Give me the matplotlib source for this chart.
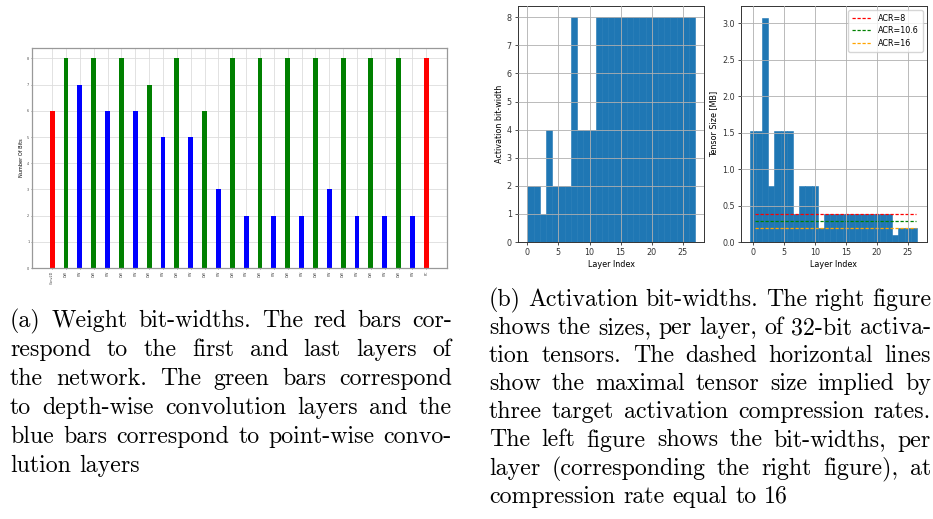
import numpy as np
import matplotlib
matplotlib.use("Agg")
import matplotlib.pyplot as plt

# (a) weight bit-widths per layer
layer_names = ["Conv2D", "DW", "PW", "DW", "PW", "DW", "PW", "DW", "PW", "DW", "PW",
               "DW", "PW", "DW", "PW", "DW", "PW", "DW", "PW", "DW", "PW", "DW", "PW",
               "DW", "PW", "DW", "PW", "FC"]
weight_bits = [6, 8, 7, 8, 6, 8, 6, 7, 5, 8, 5, 6, 3, 8, 2, 8, 2, 8, 2, 8, 3, 8, 2, 8, 2, 8, 2, 8]

# (b) activation bit-widths and 32-bit tensor sizes per layer
act_bits = [2, 2, 1, 4, 2, 2, 2, 8, 4, 4, 4, 8, 8, 8, 8, 8, 8, 8, 8, 8, 8, 8, 8, 8, 8, 8, 8]
tensor_mb = [1.53, 1.53, 3.07, 0.77, 1.53, 1.53, 1.53, 0.38, 0.77, 0.77, 0.77, 0.19,
             0.38, 0.38, 0.38, 0.38, 0.38, 0.38, 0.38, 0.38, 0.38, 0.38, 0.38,
             0.096, 0.19, 0.19, 0.19]
acr_labels = ["ACR=8", "ACR=10.6", "ACR=16"]
acr_limits = [0.384, 0.29, 0.192]

caption_a = [
    "(a) Weight bit-widths. The red bars cor-",
    "respond to the first and last layers of",
    "the network. The green bars correspond",
    "to depth-wise convolution layers and the",
    "blue bars correspond to point-wise convo-",
    "lution layers",
]
caption_b = [
    "(b) Activation bit-widths. The right figure",
    "shows the sizes, per layer, of 32-bit activa-",
    "tion tensors. The dashed horizontal lines",
    "show the maximal tensor size implied by",
    "three target activation compression rates.",
    "The left figure shows the bit-widths, per",
    "layer (corresponding the right figure), at",
    "compression rate equal to 16",
]

W, H = 933, 519
fig = plt.figure(figsize=(W / 100, H / 100), dpi=100)


def px_axes(l, t, r, b):
    return fig.add_axes([l / W, 1 - b / H, (r - l) / W, (b - t) / H])


# ---- weight bit-widths
kind_color = {"Conv2D": "red", "FC": "red", "DW": "green", "PW": "blue"}
ax1 = px_axes(32, 48, 447, 268)
x = np.arange(len(weight_bits))
ax1.bar(x, weight_bits, width=0.35, color=[kind_color[n] for n in layer_names], zorder=2)
ax1.set_xticks(x)
ax1.set_xticklabels(layer_names, rotation=90, fontsize=2.4)
ax1.set_yticks(range(9))
ax1.tick_params(axis="y", labelsize=2.4)
ax1.tick_params(length=1, width=0.4, pad=1, colors="#444444")
ax1.set_ylabel("Number Of Bits", fontsize=3.6, labelpad=2)
ax1.set_xlim(-1.45, 28.5)
ax1.set_ylim(0, 8.4)
ax1.grid(True, color="#dddddd", linewidth=0.6, zorder=0)
ax1.set_axisbelow(True)
for s in ax1.spines.values():
    s.set_color("#999999")
    s.set_linewidth(0.9)

# ---- activation bit-widths
ax2 = px_axes(518, 6, 704, 242)
ax2.bar(np.arange(len(act_bits)), act_bits, width=1, align="edge", color="#1f77b4",
        edgecolor="#1f77b4", linewidth=0.4)
ax2.set_xticks([0, 5, 10, 15, 20, 25])
ax2.set_yticks(range(9))
ax2.set_xlabel("Layer Index", fontsize=5.8, labelpad=2)
ax2.set_ylabel("Activation bit-width", fontsize=5.8, labelpad=2)

# ---- tensor sizes
ax3 = px_axes(741, 6, 927, 242)
ax3.bar(np.arange(len(tensor_mb)), tensor_mb, width=1, color="#1f77b4",
        edgecolor="#1f77b4", linewidth=0.4)
for lab, lim, c in zip(acr_labels, acr_limits, ["red", "green", "orange"]):
    ax3.plot([0.4, 26.4], [lim, lim], linestyle="--", dashes=(2.6, 1.4), linewidth=0.9, color=c, label=lab)
ax3.set_xticks([0, 5, 10, 15, 20, 25])
ax3.set_xlim(-1.9, 28.1)
ax3.set_ylim(0, 3.24)
ax3.set_xlabel("Layer Index", fontsize=5.8, labelpad=2)
ax3.set_ylabel("Tensor Size [MB]", fontsize=5.8, labelpad=3)
ax3.legend(loc="upper right", fontsize=5.8, handlelength=2.4, borderpad=0.5, labelspacing=0.4)

for ax in (ax2, ax3):
    ax.grid(True, color="#b0b0b0", linewidth=0.6)
    ax.set_axisbelow(False)
    ax.tick_params(labelsize=5.8, length=2.5, width=0.6, pad=2, colors="#333333")
    for s in ax.spines.values():
        s.set_linewidth(0.7)
        s.set_color("#333333")
ax2.set_xlim(-1.5, 28.4)


# ---- justified captions
def draw_caption(lines, x0, x1, base0, step, size=17.2):
    rend = fig.canvas.get_renderer()
    space = 0.333 * size * 100 / 72
    for i, line in enumerate(lines):
        words = line.split()
        y = 1 - (base0 + i * step) / H
        texts = [fig.text(0, y, w, fontsize=size, family="cmr10", va="baseline") for w in words]
        widths = [t.get_window_extent(rend).width for t in texts]
        if i == len(lines) - 1 or len(words) == 1:
            gap = space
        else:
            gap = (x1 - x0 - sum(widths)) / (len(words) - 1)
        pos = x0
        for t, w in zip(texts, widths):
            t.set_x(pos / W)
            pos += w + gap


draw_caption(caption_a, 10, 452, 327, 29)
draw_caption(caption_b, 489, 931, 306, 28.1)

fig.savefig("out.png", dpi=100)
